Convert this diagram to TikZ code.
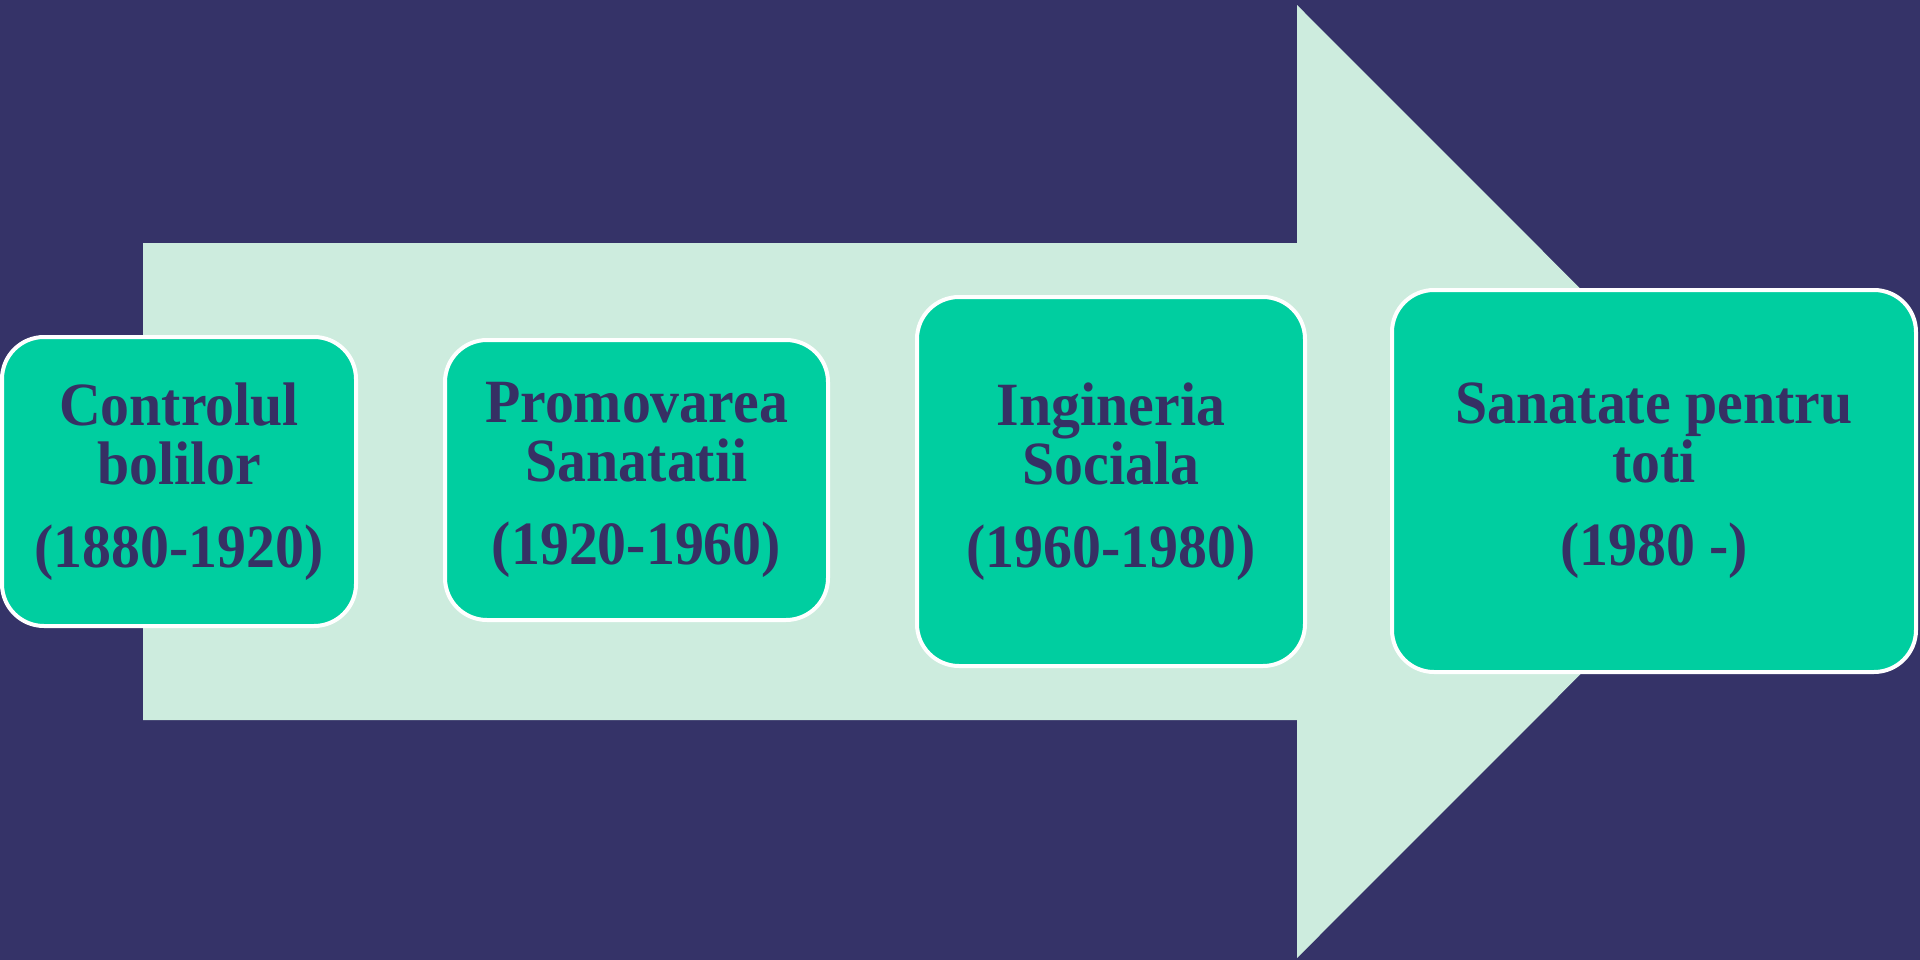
\documentclass[tikz,border=0pt]{standalone}
\usepackage{fontspec}
\setmainfont{Liberation Serif}[FakeStretch=0.94]
\definecolor{fondo}{HTML}{353368}
\definecolor{freccia}{HTML}{CDECDE}
\definecolor{casella}{HTML}{00CEA0}
\definecolor{testo}{HTML}{363064}
\begin{document}
\begin{tikzpicture}[x=0.1mm, y=-0.1mm,
    epoca/.style={draw=white, line width=0.4mm, fill=casella, rounded corners=4.2mm,
        text=testo, align=center, inner sep=0pt,
        font=\bfseries\fontsize{17.5}{16.8}\selectfont}]
    % Sfondo
    \fill[fondo] (0,0) rectangle (1920,960);
    \useasboundingbox (0,0) rectangle (1920,960);

    % Freccia (corpo + punta)
    \fill[freccia] (143,243) -- (1297,243) -- (1297,5) -- (1773,481.5)
        -- (1297,958) -- (1297,720) -- (143,720) -- cycle;

    % Caselle delle epoche
    \node[epoca, minimum width=35.4mm, minimum height=28.9mm] (controlul) at (179,481.5)
        {Controlul\\ bolilor\\[6.8pt] (1880-1920)};
    \node[epoca, minimum width=38.3mm, minimum height=28mm] (promovarea) at (636.5,480)
        {Promovarea\\ Sanatatii\\[6.8pt] (1920-1960)};
    \node[epoca, minimum width=38.8mm, minimum height=36.9mm] (ingineria) at (1111,481.5)
        {Ingineria\\ Sociala\\[6.8pt] (1960-1980)};
    \node[epoca, minimum width=52.4mm, minimum height=38.2mm] (sanatate) at (1654,481)
        {Sanatate pentru\\ toti\\[6.8pt] (1980 -)};
\end{tikzpicture}
\end{document}
